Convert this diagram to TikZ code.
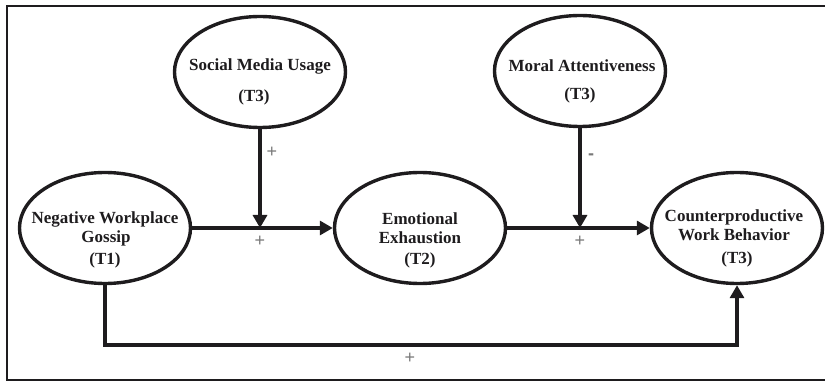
\documentclass[tikz,border=0pt]{standalone}
\usepackage{fontspec}
\setmainfont{Liberation Serif}
\newfontfamily\plusfont{Liberation Sans}
\usetikzlibrary{shapes.geometric,arrows.meta}
\definecolor{ink}{RGB}{30,28,30}
\definecolor{signgray}{RGB}{120,120,120}
\begin{document}
\begin{tikzpicture}[x=1pt,y=-1pt,
  construct/.style={draw=ink,line width=3.4pt,ellipse,minimum width=171pt,minimum height=111pt,inner sep=0pt},
  lbl/.style={font=\fontsize{17}{19.5}\selectfont\bfseries,text=ink,align=center,inner sep=0pt},
  path/.style={draw=ink,line width=3.2pt,-{Triangle[length=13pt,width=14pt]}},
  sign/.style={font=\plusfont\fontsize{18}{18}\selectfont,text=signgray,inner sep=0pt}]
\useasboundingbox (0,0) rectangle (825,382);
\draw[ink,line width=2.6pt] (826,6) -- (7,6) -- (7,380) -- (826,380);
% constructs
\node[construct] (smu) at (260,72) {};
\node[construct] (ma) at (580,71) {};
\node[construct] (nwg) at (105,228) {};
\node[construct] (ee) at (420,228) {};
\node[construct] (cwb) at (737,228) {};
% texts
\node[lbl] (smuA) at (260,66) {Social Media Usage};
\node[lbl] (smuB) at (254,97) {(T3)};
\node[lbl] (maA) at (582,66) {Moral Attentiveness};
\node[lbl] (maB) at (580,95) {(T3)};
\node[lbl] (nwgA) at (105,219) {Negative Workplace};
\node[lbl] (nwgB) at (106,238) {Gossip};
\node[lbl] (nwgC) at (105,260) {(T1)};
\node[lbl] (eeA) at (420,219) {Emotional};
\node[lbl] (eeB) at (420,238) {Exhaustion};
\node[lbl] (eeC) at (420,260) {(T2)};
\node[lbl] (cwbA) at (734,217) {Counterproductive};
\node[lbl] (cwbB) at (734,235) {Work Behavior};
\node[lbl] (cwbC) at (737,259) {(T3)};
% junction points
\coordinate (j1) at (260,228);
\coordinate (j2) at (580,228);
\coordinate (c1) at (105,345);
\coordinate (c2) at (737,345);
% paths
\draw[path] (nwg.east) -- (ee.west);
\draw[path] (ee.east) -- (cwb.west);
\draw[path] (smu.south) -- (j1);
\draw[path] (ma.south) -- (j2);
\draw[path] (nwg.south) -- (c1) -- (c2) -- (cwb.south);
% signs
\node[sign] (s1) at (272,152) {+};
\node[sign] (s2) at (260,241) {+};
\node[sign] (s3) at (591,157) {\textbf{-}};
\node[sign] (s4) at (580,241) {+};
\node[sign] (s5) at (410,358) {+};
\end{tikzpicture}
\end{document}
